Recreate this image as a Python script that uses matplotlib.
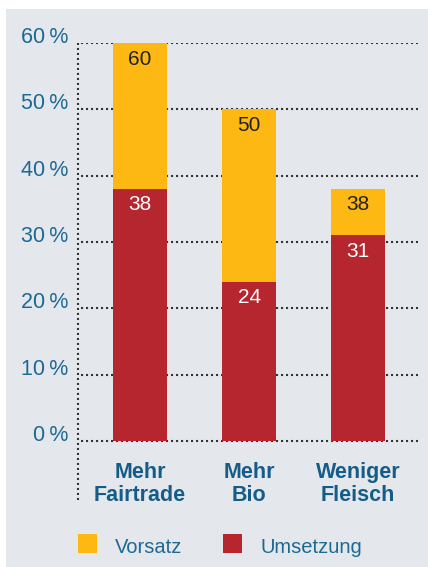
import numpy as np
import matplotlib
matplotlib.use('Agg')
import matplotlib.pyplot as plt
from matplotlib.patches import Rectangle
from matplotlib.transforms import offset_copy, blended_transform_factory

plt.rcParams['font.family'] = ['Liberation Sans', 'DejaVu Sans']

# Data
categories = ['Mehr\nFairtrade', 'Mehr\nBio', 'Weniger\nFleisch']
vorsatz = [60, 50, 38]
umsetzung = [38, 24, 31]
yticks = [0, 10, 20, 30, 40, 50, 60]

YELLOW = '#fdb813'
RED = '#b5262e'
BG = '#e4e8ec'
TEAL = '#1e6994'
DARK_TEAL = '#155d88'

W, H = 428, 567
fig = plt.figure(figsize=(W / 100, H / 100), dpi=100)
fig.patch.set_facecolor('white')
# grey panel with small white margin left and top
fig.add_artist(Rectangle((6 / W, 0), 1 - 6 / W, 1 - 9 / H, transform=fig.transFigure,
                         facecolor=BG, edgecolor='none', zorder=0))

ax = fig.add_axes([78 / W, (H - 500) / H, (418 - 78) / W, (500 - 43) / H])
ax.set_facecolor('none')
ax.set_xlim(-0.57, 2.55)
ax.set_ylim(-8.9, 60)
for s in ax.spines.values():
    s.set_visible(False)
ax.set_xticks([])
ax.set_yticks([])

x = np.arange(len(categories))
width = 0.49

# dotted grid
dots = (0, (1, 1.4))
ax.hlines(yticks, -0.54, 2.55, colors='#333333', linestyles=dots, linewidth=1.5, zorder=1)
ax.plot([0, 0], [0, 1], transform=ax.transAxes, color='#333333', linestyle=dots,
        linewidth=1.5, zorder=1, clip_on=False)

ax.bar(x, vorsatz, width, color=YELLOW, zorder=2)
ax.bar(x, umsetzung, width, color=RED, zorder=3)

# value labels
for xi, v, u in zip(x, vorsatz, umsetzung):
    tr = offset_copy(ax.transData, fig=fig, y=-16, units='dots')
    ax.text(xi, v, str(v), transform=tr, ha='center', va='center', fontsize=15,
            color='#222222', zorder=4)
    ax.text(xi, u, str(u), transform=tr, ha='center', va='center', fontsize=15,
            color='white', zorder=4)

# y tick labels
ytr = blended_transform_factory(ax.transAxes, ax.transData)
ytr = offset_copy(ytr, fig=fig, x=-10, units='dots')
for t in yticks:
    ax.text(0, t, f'{t}\u2009%', transform=ytr, ha='right', va='baseline', fontsize=15.5,
            color=TEAL)

# category labels
for xi, c in zip(x, categories):
    ax.text(xi, -3.1, c, ha='center', va='top', fontsize=15.5, fontweight='bold',
            color=DARK_TEAL, linespacing=1.15, clip_on=False)

# legend
for px, label, col in [(78, 'Vorsatz', YELLOW), (223, 'Umsetzung', RED)]:
    fig.add_artist(Rectangle((px / W, (H - 553) / H), 19 / W, 19 / H,
                             transform=fig.transFigure, facecolor=col, edgecolor='none'))
    fig.text((px + 37) / W, (H - 553) / H, label, ha='left', va='baseline', fontsize=14.5,
             color=TEAL)

fig.savefig('out.png', dpi=100)
